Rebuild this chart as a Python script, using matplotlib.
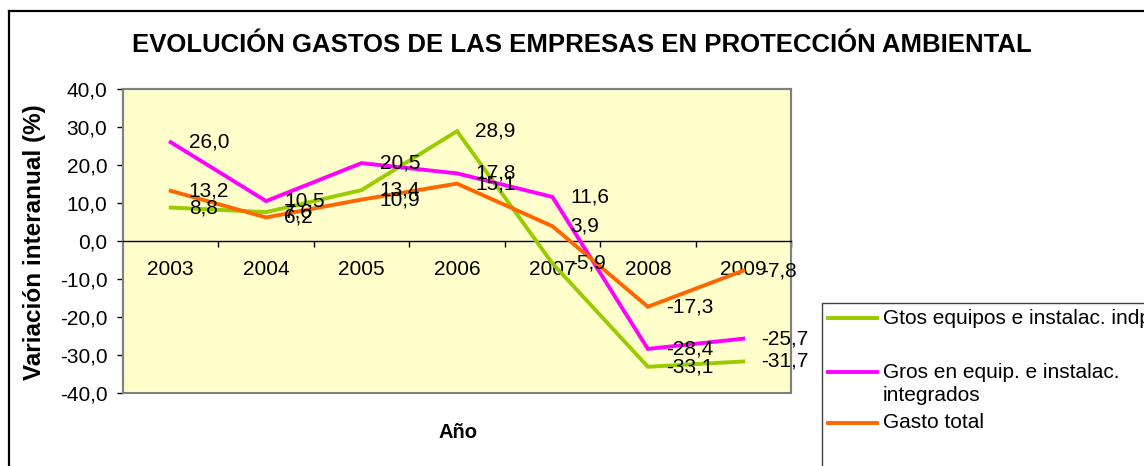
import numpy as np
import matplotlib.pyplot as plt
from matplotlib.lines import Line2D
from matplotlib.patches import Rectangle
from matplotlib.ticker import FuncFormatter

years = ["2003", "2004", "2005", "2006", "2007", "2008", "2009"]
gtos_indp = [8.8, 7.6, 13.4, 28.9, -5.9, -33.1, -31.7]
gtos_integ = [26.0, 10.5, 20.5, 17.8, 11.6, -28.4, -25.7]
gasto_total = [13.2, 6.2, 10.9, 15.1, 3.9, -17.3, -7.8]

series_names = ["Gtos equipos e instalac. indp",
                "Gros en equip. e instalac.\nintegrados",
                "Gasto total"]
series_colors = ["#99CC00", "#FF00FF", "#FF6600"]

plt.rcParams['font.family'] = ['Liberation Sans', 'DejaVu Sans']

W, H = 1144, 466
fig = plt.figure(figsize=(W / 100, H / 100), dpi=100)
ax = fig.add_axes([123 / W, 1 - 393 / H, 668 / W, 304 / H])
ax.set_facecolor("#FFFFCC")

x = np.arange(len(years))
for vals, name, col in zip([gtos_indp, gtos_integ, gasto_total],
                           series_names, series_colors):
    ax.plot(x, vals, color=col, lw=2.8, solid_joinstyle='miter', zorder=3)
    for xi, v in zip(x, vals):
        ax.annotate(f"{v:.1f}".replace(".", ","), (xi, v),
                    xytext=(13, 0), textcoords='offset points',
                    ha='left', va='center', fontsize=15, zorder=5)

ax.set_xlim(-0.5, len(years) - 0.5)
ax.set_ylim(-40, 40)
ax.set_yticks(np.arange(-40, 41, 10))
ax.yaxis.set_major_formatter(FuncFormatter(lambda v, p: f"{v:.1f}".replace(".", ",")))
ax.tick_params(axis='y', direction='out', length=4.3, width=1, labelsize=15,
               color='black', pad=7)

# eje x sobre la linea del cero
for s in ['top', 'right', 'left']:
    ax.spines[s].set_color('#808080')
    ax.spines[s].set_linewidth(1.5)
ax.spines['bottom'].set_position(('data', 0))
ax.spines['bottom'].set_color('black')
ax.spines['bottom'].set_linewidth(1)
ax.add_patch(Rectangle((0, 0), 1, 1, transform=ax.transAxes, fill=False,
                       edgecolor='#808080', lw=1.5, zorder=1, clip_on=False))
ax.set_xticks(np.arange(0.5, len(years), 1))
ax.set_xticklabels([])
ax.set_xticks(x, minor=True)
ax.set_xticklabels(years, minor=True)
ax.tick_params(axis='x', which='major', direction='out', length=4.3, width=1,
               color='black')
ax.tick_params(axis='x', which='minor', length=0, pad=14, labelsize=15)

# textos
fig.text(582 / W, 1 - 45 / H,
         "EVOLUCIÓN GASTOS DE LAS EMPRESAS EN PROTECCIÓN AMBIENTAL",
         ha='center', va='center', fontsize=18.5, fontweight='bold')
fig.text(35 / W, 1 - 242 / H, "Variación interanual (%)", rotation=90,
         ha='center', va='center', fontsize=17.5, fontweight='bold')
fig.text(458 / W, 1 - 432 / H, "Año", ha='center', va='center',
         fontsize=14.5, fontweight='bold')

# marco exterior (solo arriba e izquierda visibles)
fig.add_artist(Line2D([9 / W, 9 / W], [0, 1 - 11 / H], color='black', lw=1.6))
fig.add_artist(Line2D([9 / W, 1], [1 - 11 / H, 1 - 11 / H], color='black', lw=1.6))

# leyenda, cortada por el borde de la figura
fig.add_artist(Rectangle((822 / W, -0.1), 1, 1 - 303 / H + 0.1,
                         transform=fig.transFigure, fill=False,
                         edgecolor='#404040', lw=1))
leg_y = [318, 372, 423]
for name, col, yy in zip(series_names, series_colors, leg_y):
    fig.add_artist(Line2D([828 / W, 877 / W], [1 - yy / H, 1 - yy / H],
                          color=col, lw=2.8))
    fig.text(883 / W, 1 - (yy - 9.5) / H, name, ha='left', va='top',
             fontsize=15, linespacing=1.33)

fig.savefig("out.png", dpi=100)
